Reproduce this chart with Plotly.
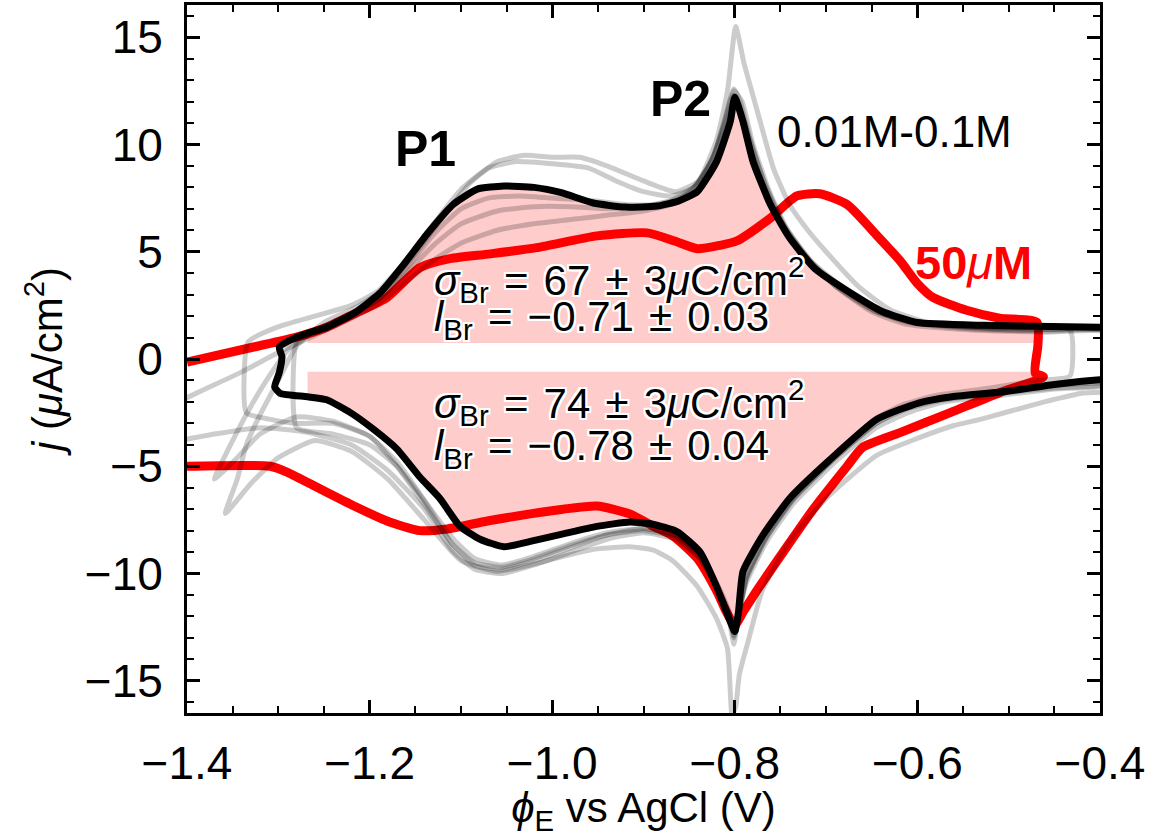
import plotly.graph_objects as go

# ---------------- data ----------------
# black: representative CV (anodic/upper sweep, then cathodic/lower sweep)
BLACK_UP_X = [-1.299, -1.280, -1.268, -1.247, -1.217, -1.189, -1.162, -1.137, -1.108, -1.082, -1.053,
              -1.020, -0.990, -0.955, -0.920, -0.885, -0.862, -0.841, -0.820, -0.805, -0.800, -0.791,
              -0.780, -0.761, -0.740, -0.712, -0.674, -0.638, -0.600, -0.528, -0.471, -0.400, -0.380]
BLACK_UP_Y = [0.56, 1.02, 1.20, 1.48, 2.13, 3.06, 4.44, 5.83, 7.22, 7.92, 8.06,
              8.00, 7.75, 7.27, 7.08, 7.13, 7.36, 7.80, 9.20, 11.06, 12.20, 11.06,
              9.20, 7.20, 5.65, 4.20, 3.10, 2.20, 1.70, 1.57, 1.53, 1.48, 1.47]
BLACK_DN_X = [-0.380, -0.400, -0.452, -0.471, -0.507, -0.562, -0.598, -0.644, -0.696, -0.740, -0.769,
              -0.791, -0.796, -0.800, -0.809, -0.820, -0.838, -0.863, -0.890, -0.915, -0.951, -0.988,
              -1.024, -1.053, -1.079, -1.101, -1.123, -1.145, -1.170, -1.195, -1.221, -1.247, -1.268,
              -1.298, -1.304, -1.299, -1.296, -1.299]
BLACK_DN_Y = [-0.95, -0.97, -1.20, -1.32, -1.53, -1.76, -2.04, -2.80, -4.70, -6.50, -8.20,
              -9.90, -11.80, -12.70, -11.80, -10.60, -9.00, -8.05, -7.70, -7.60, -7.80, -8.15,
              -8.50, -8.75, -8.40, -7.80, -6.50, -5.50, -4.20, -3.30, -2.50, -1.90, -1.76,
              -1.60, -1.30, -0.65, 0.10, 0.56]

# red: 50 uM
RED_X = [-1.400, -1.327, -1.280, -1.247, -1.217, -1.181, -1.145, -1.112, -1.068, -1.017, -0.951,
         -0.896, -0.866, -0.841, -0.816, -0.798, -0.761, -0.732, -0.707, -0.677, -0.644, -0.619,
         -0.600, -0.583, -0.546, -0.510, -0.469, -0.468, -0.471, -0.462, -0.510, -0.564, -0.619,
         -0.660, -0.677, -0.714, -0.747, -0.776, -0.791, -0.800, -0.809, -0.820, -0.841, -0.868,
         -0.890, -0.915, -0.951, -0.988, -1.024, -1.071, -1.115, -1.145, -1.181, -1.217, -1.254,
         -1.290, -1.309, -1.400]
RED_Y = [-0.14, 0.56, 1.02, 1.48, 2.10, 2.87, 4.26, 4.68, 4.90, 5.19, 5.74,
         5.88, 5.50, 5.14, 5.30, 5.50, 6.57, 7.60, 7.70, 7.20, 5.74, 4.58,
         3.52, 2.87, 2.27, 1.90, 1.71, 0.65, -0.65, -0.83, -1.57, -2.50, -3.43,
         -4.12, -5.00, -7.00, -9.00, -10.80, -11.80, -12.40, -11.80, -10.80, -9.30, -8.24,
         -7.78, -7.22, -6.85, -7.00, -7.22, -7.55, -7.92, -8.00, -7.55, -6.85, -6.06,
         -5.28, -5.00, -5.00]

# grey: individual CVs for 0.01M-0.1M
G1_X = [-1.358, -1.345, -1.335, -1.320, -1.300, -1.280, -1.250, -1.215, -1.180, -1.150, -1.120, -1.090,
        -1.060, -1.030, -1.000, -0.970, -0.940, -0.900, -0.865, -0.840, -0.820, -0.808, -0.799, -0.790,
        -0.775, -0.757, -0.740, -0.720, -0.700, -0.665, -0.630, -0.580, -0.500, -0.380,
        -0.380, -0.420, -0.470, -0.530, -0.560, -0.600, -0.645, -0.700, -0.740, -0.770, -0.785, -0.795,
        -0.799, -0.803, -0.808, -0.820, -0.841, -0.868, -0.890, -0.915, -0.951, -0.988, -1.024, -1.060,
        -1.100, -1.140, -1.180, -1.220, -1.260, -1.300, -1.330, -1.358]
G1_Y = [-7.2, -5.6, -4.0, -2.6, -1.0, 0.6, 1.7, 2.4, 3.4, 4.9, 6.6, 8.2,
        9.2, 9.5, 9.4, 9.4, 9.0, 8.3, 7.8, 8.3, 10.2, 12.5, 15.5, 13.8,
        11.5, 8.8, 7.2, 6.0, 5.0, 3.4, 2.3, 1.6, 1.35, 1.2,
        -1.4, -1.6, -2.1, -2.8, -3.1, -3.7, -4.5, -6.5, -8.5, -10.8, -13.1, -14.7,
        -16.2, -16.6, -13.5, -12.1, -10.6, -9.4, -8.9, -8.75, -8.85, -9.2, -9.6, -9.9,
        -9.4, -7.5, -5.6, -4.3, -3.8, -4.6, -5.8, -7.2]

G2_X = [-1.335, -1.333, -1.300, -1.260, -1.220, -1.190, -1.160, -1.130, -1.100, -1.070, -1.040, -1.000,
        -0.960, -0.930, -0.900, -0.870, -0.845, -0.825, -0.810, -0.801, -0.792, -0.780, -0.762, -0.742,
        -0.715, -0.680, -0.640, -0.600, -0.520, -0.433, -0.433,
        -0.470, -0.520, -0.580, -0.620, -0.650, -0.690, -0.735, -0.765, -0.788, -0.797, -0.801, -0.806,
        -0.818, -0.838, -0.865, -0.900, -0.940, -0.980, -1.020, -1.055, -1.085, -1.110, -1.140, -1.170,
        -1.200, -1.240, -1.280, -1.310, -1.335]
G2_Y = [-2.5, 0.8, 1.5, 2.0, 2.5, 3.2, 4.6, 6.3, 7.9, 8.9, 9.2, 9.1,
        8.9, 8.3, 7.8, 7.6, 8.0, 9.3, 11.2, 12.5, 12.0, 10.0, 7.8, 6.0,
        4.5, 3.3, 2.3, 1.7, 1.45, 1.35, -0.8,
        -1.0, -1.35, -1.7, -2.2, -2.9, -4.5, -6.4, -8.2, -10.2, -12.3, -13.0, -12.0,
        -10.8, -9.3, -8.3, -8.0, -8.2, -8.7, -9.3, -9.7, -9.5, -8.6, -6.8, -5.0,
        -3.6, -3.0, -3.0, -2.8, -2.5]

G3_X = [-1.280, -1.279, -1.250, -1.220, -1.190, -1.160, -1.130, -1.100, -1.060, -1.020, -0.980, -0.940,
        -0.900, -0.870, -0.845, -0.825, -0.811, -0.802, -0.795, -0.784, -0.768, -0.748, -0.722, -0.690,
        -0.650, -0.610, -0.540, -0.460, -0.380,
        -0.380, -0.450, -0.510, -0.570, -0.610, -0.645, -0.690, -0.735, -0.765, -0.787, -0.797, -0.801,
        -0.806, -0.818, -0.838, -0.865, -0.900, -0.940, -0.980, -1.020, -1.055, -1.085, -1.110, -1.140,
        -1.170, -1.200, -1.240, -1.280]
G3_Y = [-3.2, 0.9, 1.4, 2.0, 2.8, 4.0, 5.3, 6.3, 6.9, 7.1, 7.1, 7.0,
        7.1, 7.4, 8.0, 9.2, 10.8, 12.0, 11.6, 10.0, 8.0, 6.2, 4.7, 3.4,
        2.3, 1.7, 1.4, 1.3, 1.25,
        -1.05, -1.35, -1.6, -1.9, -2.3, -3.0, -4.6, -6.5, -8.3, -10.2, -12.0, -12.6,
        -11.8, -10.6, -9.1, -8.2, -7.9, -8.1, -8.6, -9.2, -9.6, -9.3, -8.3, -6.6,
        -5.0, -4.0, -3.5, -3.2]

G4_X = [-1.420, -1.380, -1.340, -1.300, -1.260, -1.220, -1.190, -1.160, -1.130, -1.100, -1.060, -1.020,
        -0.980, -0.940, -0.900, -0.870, -0.845, -0.825, -0.811, -0.802, -0.795, -0.784, -0.768, -0.748,
        -0.722, -0.690, -0.650, -0.610, -0.540, -0.460, -0.380,
        -0.380, -0.450, -0.510, -0.570, -0.610, -0.645, -0.690, -0.735, -0.765, -0.787, -0.797, -0.801,
        -0.806, -0.818, -0.838, -0.865, -0.900, -0.940, -0.980, -1.020, -1.055, -1.085, -1.110, -1.140,
        -1.180, -1.220, -1.270, -1.320, -1.370, -1.420]
G4_Y = [-2.2, -1.4, -0.6, 0.3, 1.1, 1.9, 2.6, 3.6, 4.6, 5.4, 6.0, 6.3,
        6.5, 6.7, 6.9, 7.2, 7.9, 9.3, 11.0, 12.3, 11.8, 10.3, 8.3, 6.4,
        4.8, 3.4, 2.2, 1.6, 1.35, 1.25, 1.2,
        -1.1, -1.4, -1.7, -2.0, -2.5, -3.2, -4.8, -6.7, -8.5, -10.4, -12.2, -13.3,
        -12.2, -10.8, -9.3, -8.4, -8.1, -8.4, -9.0, -9.6, -10.0, -9.8, -8.9, -7.0,
        -5.2, -4.0, -3.4, -3.2, -3.5, -3.9]

G5_X = [-1.370, -1.350, -1.330, -1.310, -1.290, -1.260, -1.225, -1.190, -1.160, -1.130, -1.100, -1.070,
        -1.035, -1.000, -0.960, -0.920, -0.885, -0.860, -0.840, -0.822, -0.809, -0.801, -0.794, -0.783,
        -0.766, -0.745, -0.718, -0.685, -0.645, -0.600, -0.520, -0.450, -0.380,
        -0.380, -0.450, -0.510, -0.570, -0.610, -0.645, -0.690, -0.735, -0.765, -0.787, -0.797, -0.801,
        -0.806, -0.818, -0.838, -0.865, -0.900, -0.940, -0.980, -1.020, -1.055, -1.085, -1.110, -1.140,
        -1.170, -1.200, -1.240, -1.280, -1.320, -1.345, -1.370]
G5_Y = [-5.6, -3.8, -2.2, -0.8, 0.4, 1.3, 2.0, 2.8, 4.2, 5.8, 7.0, 7.5,
        7.6, 7.5, 7.4, 7.2, 7.2, 7.5, 8.2, 9.6, 11.5, 12.6, 12.0, 10.2,
        8.0, 6.1, 4.6, 3.3, 2.2, 1.65, 1.45, 1.38, 1.35,
        -0.95, -1.2, -1.5, -1.8, -2.2, -3.0, -4.6, -6.5, -8.3, -10.2, -12.3, -12.9,
        -11.9, -10.7, -9.2, -8.2, -7.9, -8.2, -8.8, -9.4, -9.8, -9.6, -8.6, -6.6,
        -4.8, -3.6, -2.9, -2.7, -3.5, -4.6, -5.6]

GREYS = [(G1_X, G1_Y), (G2_X, G2_Y), (G3_X, G3_Y), (G4_X, G4_Y), (G5_X, G5_Y)]

# shaded charge-integration regions
SHADE_X = [-1.268, -0.471]
SHADE_BASE_UP = 0.75
SHADE_BASE_DN = -0.6

X_TICKS = [-1.4, -1.2, -1.0, -0.8, -0.6, -0.4]
Y_TICKS = [-15, -10, -5, 0, 5, 10, 15]

FONT = "Liberation Sans, Arial, Helvetica, sans-serif"
OUTLINE = ("2px 0 0 white, -2px 0 0 white, 0 2px 0 white, 0 -2px 0 white, "
           "2px 2px 0 white, -2px -2px 0 white, 2px -2px 0 white, -2px 2px 0 white")
SP = " \u200a"  # slightly widened math spacing

fig = go.Figure()

# pink shaded areas
def in_range(x):
    return SHADE_X[0] - 1e-9 <= x <= SHADE_X[1] + 1e-9

up_pts = [(x, y) for x, y in zip(BLACK_UP_X, BLACK_UP_Y) if in_range(x)]
dn_pts = [(x, y) for x, y in zip(BLACK_DN_X, BLACK_DN_Y) if in_range(x)]
for pts, base in ((up_pts, SHADE_BASE_UP), (dn_pts, SHADE_BASE_DN)):
    pts = sorted(pts)
    px = [SHADE_X[0]] + [p[0] for p in pts] + [SHADE_X[1]]
    py = [base] + [p[1] for p in pts] + [base]
    fig.add_trace(go.Scatter(x=px, y=py, mode="lines", fill="toself",
                             fillcolor="rgba(255,0,0,0.2)", line=dict(width=0),
                             hoverinfo="skip", showlegend=False))

# red 50 uM
fig.add_trace(go.Scatter(x=RED_X, y=RED_Y, mode="lines",
                         line=dict(color="#ff0000", width=9, shape="spline", smoothing=0.6),
                         showlegend=False))

# grey individual curves
for gx, gy in GREYS:
    fig.add_trace(go.Scatter(x=gx, y=gy, mode="lines",
                             line=dict(color="rgba(0,0,0,0.2)", width=5, shape="spline", smoothing=0.5),
                             showlegend=False))

# black representative curve
fig.add_trace(go.Scatter(x=BLACK_UP_X + BLACK_DN_X, y=BLACK_UP_Y + BLACK_DN_Y, mode="lines",
                         line=dict(color="black", width=7, shape="spline", smoothing=0.5),
                         showlegend=False))

def ann(x, y, text, size, color="black", xanchor="center", shadow=None):
    fig.add_annotation(x=x, y=y, xref="x", yref="y", text=text, showarrow=False,
                       xanchor=xanchor, yanchor="middle",
                       font=dict(family=FONT, size=size, color=color, shadow=shadow))

ann(-1.139, 9.8, "<b>P1</b>", 50)
ann(-0.860, 12.1, "<b>P2</b>", 50)
ann(-0.625, 10.6, "0.01M-0.1M", 44)
ann(-0.539, 4.5, "<b>50</b><i>μ</i><b>M</b>", 47, color="#ff0000")

ann(-1.132, 3.72, f"<i>σ</i><sub>Br</sub>{SP}={SP}67{SP}±{SP}3<i>μ</i>C/cm<sup>2</sup>", 42,
    xanchor="left", shadow=OUTLINE)
ann(-1.132, 1.82, f"<i>l</i><sub>Br</sub>{SP}={SP}−0.71{SP}±{SP}0.03", 42,
    xanchor="left", shadow=OUTLINE)
ann(-1.132, -2.05, f"<i>σ</i><sub>Br</sub>{SP}={SP}74{SP}±{SP}3<i>μ</i>C/cm<sup>2</sup>", 42,
    xanchor="left", shadow=OUTLINE)
ann(-1.132, -4.15, f"<i>l</i><sub>Br</sub>{SP}={SP}−0.78{SP}±{SP}0.04", 42,
    xanchor="left", shadow=OUTLINE)

axis_common = dict(showline=True, linecolor="black", linewidth=3, mirror="ticks",
                   ticks="inside", ticklen=13, tickwidth=3, tickcolor="black",
                   showgrid=False, zeroline=False,
                   tickfont=dict(family=FONT, size=46, color="black"))

fig.update_xaxes(range=[-1.4, -0.4], tickvals=X_TICKS, tickformat=".1f",
                 minor=dict(dtick=0.05, tick0=-1.4, ticks="inside", ticklen=7, tickwidth=2,
                            tickcolor="black", showgrid=False),
                 title=dict(text="<i>ϕ</i><sub>E</sub> vs AgCl (V)",
                            font=dict(family=FONT, size=42, color="black"), standoff=12),
                 ticklabelstandoff=8,
                 **axis_common)
fig.update_yaxes(range=[-16.5, 16.5], tickvals=Y_TICKS,
                 minor=dict(dtick=1, tick0=0, ticks="inside", ticklen=7, tickwidth=2,
                            tickcolor="black", showgrid=False),
                 title=dict(text="<i>j</i> (<i>μ</i>A/cm<sup>2</sup>)",
                            font=dict(family=FONT, size=42, color="black"), standoff=10),
                 ticklabelstandoff=12,
                 **axis_common)

fig.update_layout(width=1156, height=837, margin=dict(l=187, r=56, t=2, b=124),
                  plot_bgcolor="white", paper_bgcolor="white", showlegend=False)

fig.write_html("out.html")
